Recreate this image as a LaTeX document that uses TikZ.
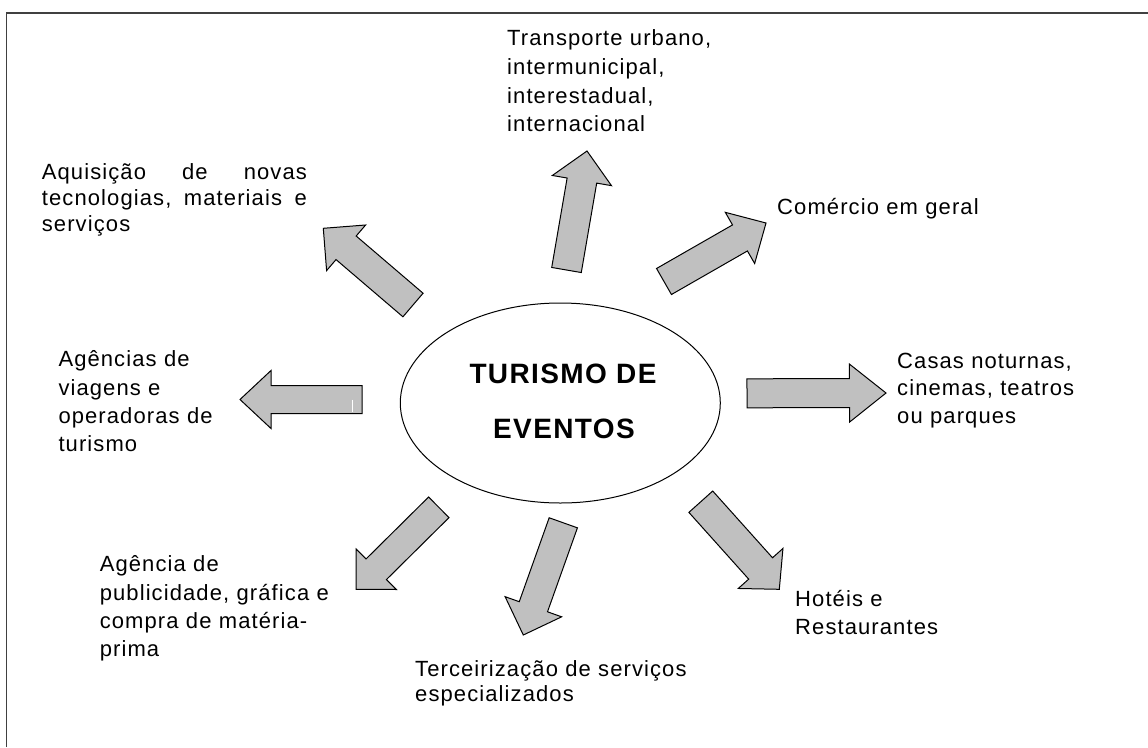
\documentclass[tikz,border=0pt]{standalone}
\usepackage{fontspec}
\setmainfont{Liberation Sans}[LetterSpace=5]
\usetikzlibrary{calc,shapes.geometric}
\definecolor{arrowgray}{HTML}{C0C0C0}
\definecolor{framegray}{HTML}{404040}
\newcommand\lblfont[1]{\fontsize{22}{#1}\selectfont}
\newcommand\blockarrow[5]{%
  \coordinate (#1-h) at ($(#2)!#5!(#1)$);
  \draw[barrow] ($(#1)!#3!90:(#2)$) -- ($(#1-h)!#3!90:(#2)$) -- ($(#1-h)!#4!90:(#2)$) -- (#2)
    -- ($(#1-h)!#4!-90:(#2)$) -- ($(#1-h)!#3!-90:(#2)$) -- ($(#1)!#3!-90:(#2)$) -- cycle;
}
\tikzset{
  barrow/.style={draw=black, line width=1pt, fill=arrowgray, line join=miter},
  lbl/.style={inner sep=0pt, anchor=base west, text width=300pt, align=left},
  ttl/.style={inner sep=0pt, anchor=base, font=\fontsize{28}{34}\selectfont\bfseries},
  hub/.style={ellipse, draw=black, line width=1pt, minimum width=320pt, minimum height=200pt, inner sep=0pt}
}
\begin{document}
\begin{tikzpicture}[x=1pt,y=-1pt]
\useasboundingbox (0,0) rectangle (1148,747);
\fill[white] (0,0) rectangle (1148,747);
% frame (only top and left sides visible)
\draw[framegray, line width=1.8pt] (6.5,747) -- (6.5,13.2) -- (1148,13.2);

% central ellipse
\node[hub] (hub) at (560.3,403) {};
\node[ttl] (t1) at (563,383.3) {TURISMO DE};
\node[ttl] (t2) at (564,438.3) {EVENTOS};

% arrow end points
\coordinate (a1) at (566.5,270);   \coordinate (a1tip) at (587,151);
\coordinate (a2) at (664,281.5);   \coordinate (a2tip) at (766,223);
\coordinate (a3) at (413,305);     \coordinate (a3tip) at (323.3,228.3);
\coordinate (a4) at (362,399.5);   \coordinate (a4tip) at (240,399.5);
\coordinate (a5) at (747,393.3);   \coordinate (a5tip) at (886,393);
\coordinate (a6) at (700.8,501.7); \coordinate (a6tip) at (779.3,589.3);
\coordinate (a7) at (438.8,507.3); \coordinate (a7tip) at (356,589.3);
\coordinate (a8) at (563.3,522.8); \coordinate (a8tip) at (523.3,635);

\blockarrow{a1}{a1tip}{15pt}{30pt}{30pt}
\blockarrow{a2}{a2tip}{15pt}{29.5pt}{30pt}
\blockarrow{a3}{a3tip}{15.5pt}{30pt}{30pt}
\blockarrow{a4}{a4tip}{14pt}{29pt}{31pt}
\blockarrow{a5}{a5tip}{14.5pt}{29pt}{36.5pt}
\blockarrow{a6}{a6tip}{16pt}{30pt}{28pt}
\blockarrow{a7}{a7tip}{14.5pt}{28.5pt}{28.5pt}
\blockarrow{a8}{a8tip}{15pt}{30pt}{30pt}
\draw[white, line width=1pt] (352.7,399.5) -- (352.7,411.5);

% labels
\node[lbl, font=\lblfont{28.7}] (l1) at (507,45.7)
  {Transporte urbano,\\intermunicipal,\\interestadual,\\internacional};
\node[lbl, font=\lblfont{26.2}] (l2) at (41.7,179.5)
  {\makebox[265pt][l]{Aquisição\hfill de\hfill novas}\\\makebox[265pt][l]{tecnologias,\hfill materiais\hfill e}\\serviços};
\node[lbl, font=\lblfont{28}] (l3) at (777,214.3) {Comércio em geral};
\node[lbl, font=\lblfont{28.3}] (l4) at (58.3,366.7)
  {Agências de\\viagens e\\operadoras de\\turismo};
\node[lbl, font=\lblfont{27.5}, text width=240pt] (l5) at (897,368.3)
  {Casas noturnas,\\cinemas, teatros\\ou parques};
\node[lbl, font=\lblfont{28}] (l6) at (795,606) {Hotéis e\\Restaurantes};
\node[lbl, font=\lblfont{28.3}] (l7) at (99.6,571.7)
  {Agência de\\publicidade, gráfica e\\compra de matéria-\\prima};
\node[lbl, font=\lblfont{25}] (l8) at (415,676.7)
  {Terceirização de serviços\\especializados};
\end{tikzpicture}
\end{document}
